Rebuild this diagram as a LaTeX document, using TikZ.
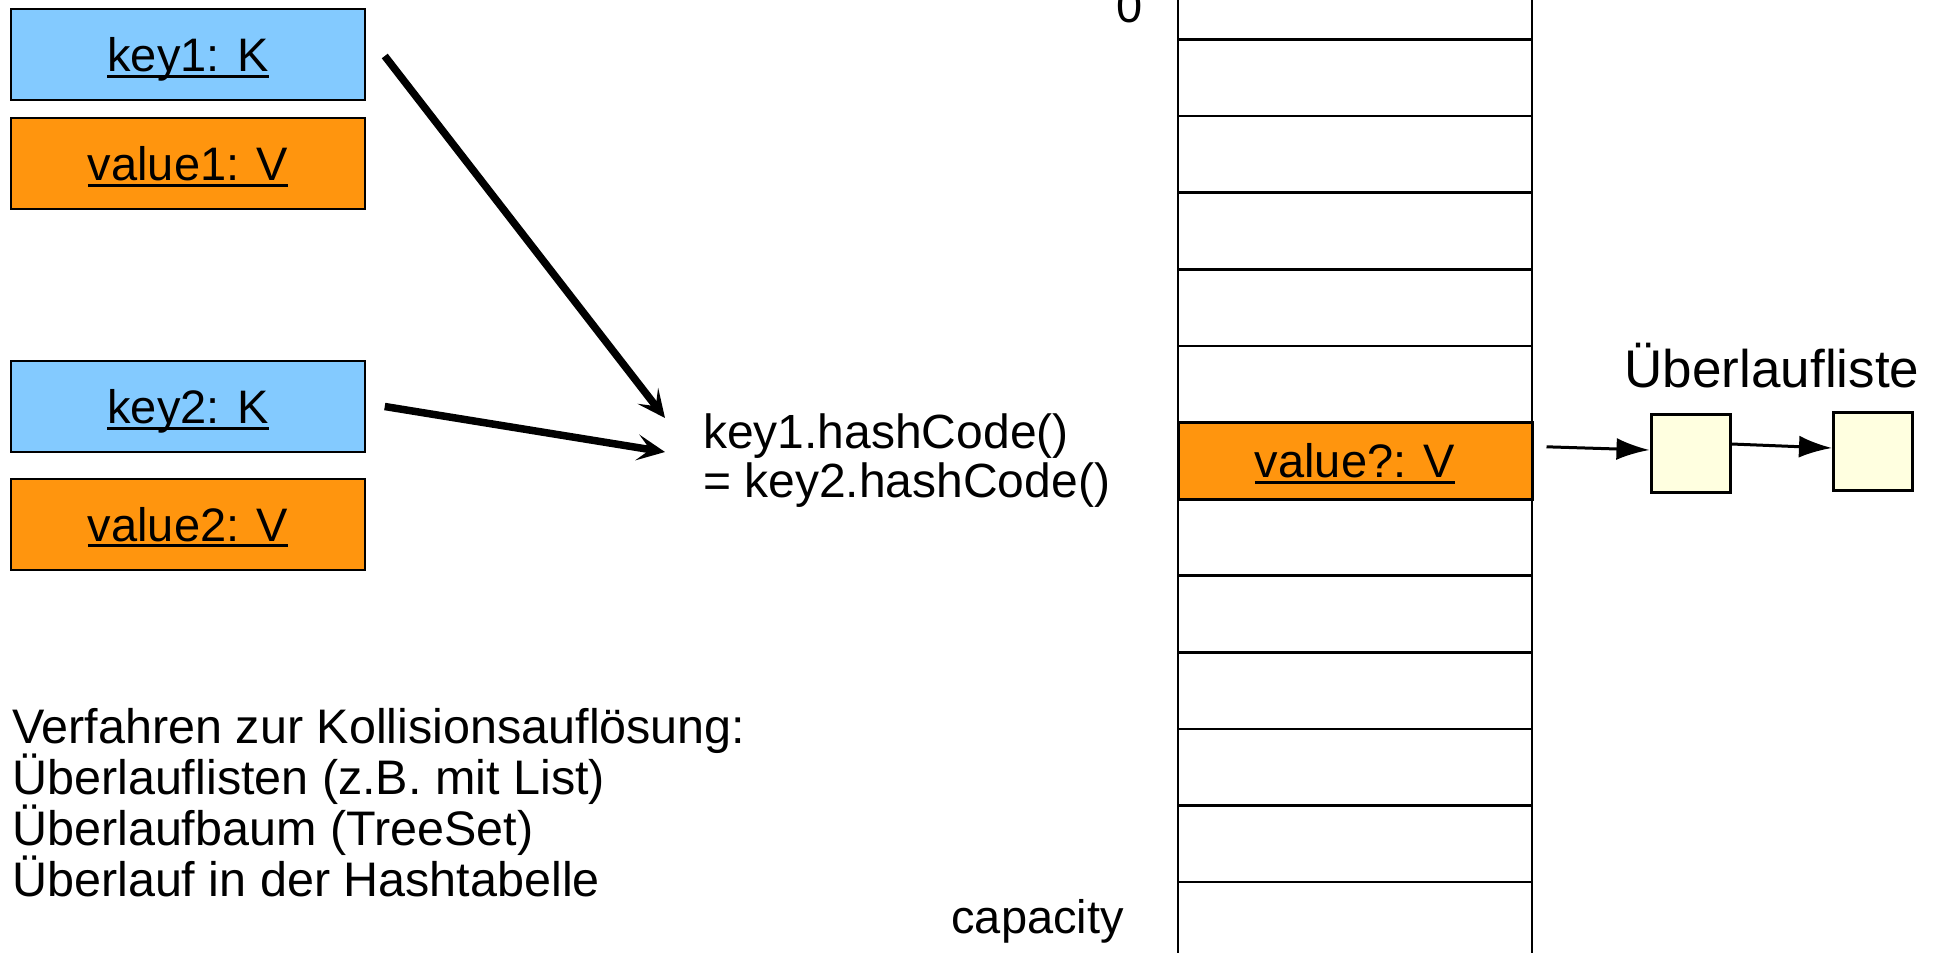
\documentclass[tikz,border=0pt]{standalone}
\usepackage{fontspec}
\setmainfont{Liberation Sans}
\usetikzlibrary{arrows.meta}
\definecolor{keyblue}{RGB}{131,202,255}
\definecolor{valorange}{RGB}{255,149,14}
\definecolor{listyellow}{RGB}{255,255,224}
\newcommand{\ulx}[1]{\setbox0=\hbox{#1}\rlap{\rule[-6pt]{\wd0}{3pt}}\box0}
\begin{document}
\begin{tikzpicture}[x=1pt,y=-1pt,
  lbl/.style={font=\fontsize{47}{50}\selectfont},
  txt/.style={lbl, inner sep=0pt},
  bigtxt/.style={txt, font=\fontsize{48.5}{51}\selectfont},
  kbox/.style={draw=black, line width=1.5pt, fill=keyblue, minimum width=354pt,
    minimum height=91pt, inner sep=0pt, text height=34pt, text depth=0pt, lbl},
  vbox/.style={kbox, fill=valorange, line width=2pt},
  bigarrow/.style={line width=7.5pt, -{Stealth[length=28pt,width=26pt,inset=13pt]}},
  cell/.style={draw=black, line width=2.5pt, minimum width=354pt, minimum height=76.6pt, inner sep=0pt},
  slotcell/.style={cell, fill=valorange, line width=3pt, text height=34pt, text depth=0pt, lbl},
  lbox/.style={draw=black, line width=3pt, fill=listyellow, minimum width=79pt, minimum height=78pt, inner sep=0pt},
  smallarrow/.style={line width=3pt, -{Latex[length=33pt,width=22pt]}}
]
\useasboundingbox (0,0) rectangle (1941,953);

% key / value boxes
\node[kbox] (key1) at (188,54.5) {\ulx{key1: K}};
\node[vbox] (val1) at (188,163.5) {\ulx{value1: V}};
\node[kbox] (key2) at (188,406.5) {\ulx{key2: K}};
\node[vbox] (val2) at (188,524) {\ulx{value2: V}};

% hash text
\node[bigtxt, font=\fontsize{48}{51}\selectfont, anchor=base west] (hash1) at (703,448) {key1.hashCode()};
\node[bigtxt, font=\fontsize{48}{51}\selectfont, anchor=base west] (hash2) at (703,497.5) {= key2.hashCode()};
\coordinate (t1) at (665,418);
\coordinate (t2) at (665,452);
\draw[bigarrow] ([shift={(19,1.5)}]key1.east) -- (t1);
\draw[bigarrow] ([shift={(19,0)}]key2.east) -- (t2);

% hash table
\foreach \k in {-1,0,1,2,3,4,6,7,8,9,10,11}{
  \node[cell] (cell\k) at (1355,{39.5+76.6*(\k+0.5)}) {};
}
\node[slotcell] (slot) at (1355,{39.5+76.6*5.5}) {\ulx{value?: V}};
\node[txt, anchor=base east] (zero) at (1143,22) {0};
\node[txt, anchor=base east] (cap) at (1124,933) {capacity};

% overflow list
\node[lbox] (b1) at (1690.5,453) {};
\node[lbox] (b2) at (1873,451.5) {};
\node[txt, font=\fontsize{53}{56}\selectfont, anchor=base] (ueber) at (1772,387) {Überlaufliste};
\draw[smallarrow] ([shift={(13,-14)}]slot.east) -- ([shift={(0,-3)}]b1.west);
\draw[smallarrow] ([shift={(0,-9)}]b1.east) -- ([shift={(0,-3.5)}]b2.west);

% collision text
\node[bigtxt, anchor=base west] (v1) at (12,743) {Verfahren zur Kollisionsauflösung:};
\node[bigtxt, anchor=base west] (v2) at (12,794) {Überlauflisten (z.B. mit List)};
\node[bigtxt, anchor=base west] (v3) at (12,845) {Überlaufbaum (TreeSet)};
\node[bigtxt, anchor=base west] (v4) at (12,896) {Überlauf in der Hashtabelle};
\end{tikzpicture}
\end{document}
